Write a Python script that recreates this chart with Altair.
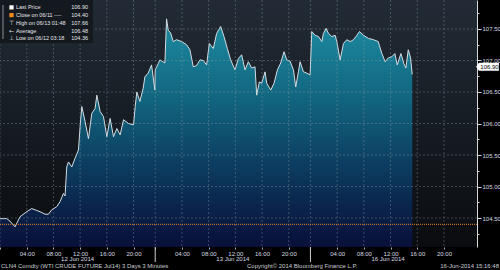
import altair as alt
import pandas as pd

# ---------------- data ----------------
# 3-minute bars counted in trading time from 12 Jun 2014 00:00 (each session = 465 bars)
bars = [0, 10, 20, 30, 45, 60, 80, 95, 110, 120, 135, 145, 155, 170, 180, 190, 195, 200, 205, 215,
        225, 235, 240, 245, 255, 265, 275, 285, 290, 300, 310, 320, 330, 340, 350, 360, 370, 385, 400, 405,
        410, 419, 429, 434, 444, 454, 464, 465, 474, 479, 488, 494, 499, 504, 511, 519, 529, 544, 559, 569,
        579, 589, 599, 609, 619, 627, 639, 649, 661, 671, 681, 691, 704, 714, 724, 734, 744, 754, 764, 769,
        777, 784, 794, 799, 811, 821, 831, 841, 851, 859, 869, 879, 886, 894, 899, 909, 919, 929, 934, 944,
        954, 964, 969, 977, 984, 994, 1004, 1009, 1019, 1029, 1039, 1049, 1059, 1069, 1077, 1089, 1104, 1119, 1133, 1144,
        1154, 1163, 1174, 1183, 1190, 1201, 1210, 1216, 1223, 1230, 1235]
prices = [104.49, 104.49, 104.49, 104.45, 104.36, 104.52, 104.60, 104.65, 104.62, 104.60, 104.56, 104.56, 104.63, 104.68, 104.76, 104.89, 104.85, 105.31, 105.39, 105.31,
          105.45, 105.58, 105.95, 106.27, 106.03, 105.76, 106.16, 106.24, 106.45, 106.19, 106.11, 105.79, 106.08, 105.79, 105.92, 105.82, 106.06, 106.00, 105.98, 106.27,
          106.50, 106.35, 106.56, 106.74, 106.80, 106.93, 106.53, 106.85, 106.95, 107.01, 106.98, 106.96, 107.66, 107.48, 107.44, 107.30, 107.33, 107.30, 107.25, 107.17,
          106.90, 106.92, 107.01, 107.00, 106.93, 107.27, 107.19, 107.43, 107.54, 107.38, 107.19, 107.01, 106.85, 107.03, 107.09, 106.85, 106.98, 106.88, 106.90, 106.45,
          106.66, 106.64, 106.82, 106.64, 106.53, 106.64, 106.85, 106.96, 107.14, 107.01, 106.99, 106.85, 106.58, 106.82, 106.98, 106.82, 106.80, 106.77, 107.46, 107.40,
          107.38, 107.30, 107.43, 107.51, 107.43, 107.38, 107.40, 107.30, 107.01, 107.27, 107.33, 107.30, 107.33, 107.40, 107.46, 107.40, 107.35, 107.33, 107.30, 107.11,
          106.98, 107.04, 107.06, 107.11, 106.93, 107.11, 106.95, 106.88, 107.17, 107.04, 106.78]

session_starts = [0, 465, 930]
session_len = 465
session_dates = ["12 Jun 2014", "13 Jun 2014", "16 Jun 2014"]
hour_marks = [0, 4, 8, 12, 16, 20]
y_ticks = [104.25, 104.50, 104.75, 105.00, 105.25, 105.50, 105.75, 106.00, 106.25,
           106.50, 106.75, 107.00, 107.25, 107.50, 107.75]
y_domain = [104.04, 107.96]
x_domain = [0, 1429]
close_price = 104.40
last_price = 106.90
legend_labels = ["Last Price", "Close on 06/11  ----", "High on 06/13 01:48", "Average", "Low on 06/12 03:18"]
legend_values = ["106.90", "104.40", "107.66", "106.48", "104.36"]
footer_left = "CLN4 Comdty (WTI CRUDE FUTURE  Jul14) 3 Days 3 Minutes"
footer_mid = "Copyright\u00a9 2014 Bloomberg Finance L.P."
footer_right = "16-Jun-2014 15:16:48"

# ---------------- layout / style ----------------
W, H = 477, 247
F = "Liberation Sans"
TXT = "#d6dbe0"

df = pd.DataFrame({"bar": bars, "price": prices})
xtick_vals = [s + h * 20 for s in session_starts for h in hour_marks]
grid_prices = [v for v in y_ticks if abs(v * 2 - round(v * 2)) < 1e-6]
one = pd.DataFrame({"a": [0]})

xscale = alt.Scale(domain=x_domain, nice=False, zero=False)
yscale = alt.Scale(domain=y_domain, nice=False, zero=False)

hour_expr = "((datum.value % 465) / 20)"
x_axis = alt.Axis(
    values=xtick_vals,
    labelExpr=f"(datum.value % 465) == 0 ? '' : ({hour_expr} < 10 ? '0' : '') + {hour_expr} + ':00'",
    grid=False, domain=False, ticks=True, tickColor="#aab2ba", tickSize=2,
    labelColor=TXT, labelFont=F, labelFontSize=6, labelPadding=1, title=None,
    labelFlush=False, labelOverlap=False,
)
half_test = "abs(datum.value * 2 - round(datum.value * 2)) < 0.001"
y_axis = alt.Axis(
    orient="right", values=y_ticks, title=None, grid=False,
    labelExpr=f"{half_test} ? format(datum.value, '.2f') : ''",
    domain=True, domainColor="#d8d8d8", domainWidth=1,
    tickColor="#d8d8d8", tickSize={"condition": {"test": half_test, "value": 4}, "value": 2},
    labelColor=TXT, labelFont=F, labelFontSize=6, labelPadding=1,
    labelOverlap=False, labelFlush=False,
)


def X(field="bar"):
    return alt.X(f"{field}:Q", scale=xscale, axis=x_axis)


def Y(field="price"):
    return alt.Y(f"{field}:Q", scale=yscale, axis=y_axis)


bg = alt.Chart(one).mark_rect(
    color=alt.Gradient(gradient="linear", x1=0, x2=0, y1=0, y2=1,
                       stops=[alt.GradientStop(color="#222b35", offset=0),
                              alt.GradientStop(color="#161c23", offset=0.5),
                              alt.GradientStop(color="#0a0c0f", offset=1)])
).encode(x=alt.value(0), x2=alt.value(W), y=alt.value(0), y2=alt.value(H))

area = alt.Chart(df).mark_area(
    color=alt.Gradient(gradient="linear", x1=0, x2=0, y1=0, y2=1,
                       stops=[alt.GradientStop(color="#1d8ca2", offset=0),
                              alt.GradientStop(color="#12657f", offset=0.35),
                              alt.GradientStop(color="#0c3c5f", offset=0.65),
                              alt.GradientStop(color="#0a2148", offset=0.85),
                              alt.GradientStop(color="#08103a", offset=1)])
).encode(x=X(), y=Y(), y2=alt.datum(y_domain[0]))

line = alt.Chart(df).mark_line(color="#d4dde3", strokeWidth=1).encode(x=X(), y=Y())

grid_style = dict(color="#9aa4ae", opacity=0.45, strokeDash=[2, 2], strokeWidth=0.8)
gridy = alt.Chart(pd.DataFrame({"price": grid_prices})).mark_rule(**grid_style).encode(y=Y())
gridx = alt.Chart(pd.DataFrame({"bar": xtick_vals})).mark_rule(**grid_style).encode(x=X())

close_rule = alt.Chart(pd.DataFrame({"price": [close_price]})).mark_rule(
    color="#e8892c", strokeDash=[1, 1], strokeWidth=1).encode(y=Y())

sep = alt.Chart(pd.DataFrame({"bar": session_starts[1:]})).mark_rule(
    color="#d0d0d0", strokeWidth=1).encode(x=X(), y=alt.value(H), y2=alt.value(H + 15))

dates = alt.Chart(pd.DataFrame({"bar": [s + session_len / 2 for s in session_starts],
                                "d": session_dates})).mark_text(
    font=F, fontSize=6, color=TXT, baseline="middle", align="center").encode(
    x=X(), y=alt.value(H + 11.5), text="d:N")

footers = []
for txt, xpos, al in [(footer_left, 1, "left"), (footer_mid, 247, "left"), (footer_right, 499, "right")]:
    footers.append(alt.Chart(pd.DataFrame({"t": [txt]})).mark_text(
        font=F, fontSize=6, color="#c8ccd0", baseline="middle", align=al).encode(
        x=alt.value(xpos), y=alt.value(H + 18.5), text="t:N"))

legend_box = alt.Chart(one).mark_rect(color="#14181d", opacity=0.92).encode(
    x=alt.value(0), x2=alt.value(93), y=alt.value(0), y2=alt.value(43))
bracket = alt.Chart(one).mark_rule(color="#8a9096", strokeWidth=1).encode(
    x=alt.value(3), y=alt.value(5), y2=alt.value(39))

legend_layers = []
row_y = [7.4, 15.1, 22.8, 30.5, 38.0]
icons = [None, None, "\u22a4", "\u2190", "\u22a5"]
sq_colors = ["#ffffff", "#f08a1c"]
for i, (lab, val) in enumerate(zip(legend_labels, legend_values)):
    d = pd.DataFrame({"lab": [lab], "val": [val]})
    legend_layers.append(alt.Chart(d).mark_text(
        font=F, fontSize=5.5, color="#e4e6e8", align="left", baseline="middle").encode(
        x=alt.value(16), y=alt.value(row_y[i]), text="lab:N"))
    legend_layers.append(alt.Chart(d).mark_text(
        font=F, fontSize=5.5, color="#e4e6e8", align="right", baseline="middle").encode(
        x=alt.value(88), y=alt.value(row_y[i]), text="val:N"))
    if i < 2:
        legend_layers.append(alt.Chart(d).mark_square(
            size=18, color=sq_colors[i], opacity=1, filled=True).encode(
            x=alt.value(11.5), y=alt.value(row_y[i])))
    else:
        legend_layers.append(alt.Chart(pd.DataFrame({"g": [icons[i]]})).mark_text(
            font="DejaVu Sans", fontSize=6, color="#d8dade", align="center", baseline="middle").encode(
            x=alt.value(11.5), y=alt.value(row_y[i]), text="g:N"))

lp = pd.DataFrame({"price": [last_price], "t": [f"{last_price:.2f}"]})
last_box = alt.Chart(lp).mark_point(
    shape="M-1.55,0L-1.2,-0.5L1.3,-0.5L1.3,0.5L-1.2,0.5Z", filled=True, size=256,
    color="#ffffff", opacity=1).encode(x=alt.value(488.5), y=Y())
last_text = alt.Chart(lp).mark_text(font=F, fontSize=6, color="#000000",
                                    align="center", baseline="middle").encode(
    x=alt.value(489.5), y=Y(), text="t:N")

chart = alt.layer(
    bg, area, line, gridy, gridx, close_rule, sep, dates, *footers,
    legend_box, bracket, *legend_layers, last_box, last_text,
).properties(
    width=W, height=H, autosize="none",
    padding={"left": 0, "top": 0, "right": 23, "bottom": 23},
).configure(background="#000000").configure_view(stroke=None)

chart.save("out.html", embed_options={"renderer": "svg", "actions": False})
